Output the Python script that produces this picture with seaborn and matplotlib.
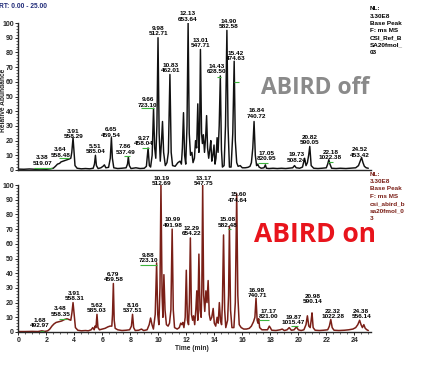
import matplotlib
matplotlib.use("Agg")
import matplotlib.pyplot as plt
from matplotlib.ticker import MultipleLocator
import seaborn as sns
import pandas as pd

# ---------------- data ----------------
top_time = [0.00, 0.40, 0.80, 1.20, 1.60, 2.00, 2.30, 2.50, 2.65, 2.80, 2.95, 3.05, 3.20, 3.35, 3.50, 3.64,
            3.75, 3.82, 3.91, 3.98, 4.05, 4.20, 4.50, 4.80, 5.10, 5.35, 5.44, 5.51, 5.58, 5.70, 5.90, 6.05,
            6.15, 6.25, 6.45, 6.57, 6.65, 6.72, 6.82, 7.10, 7.40, 7.70, 7.80, 7.86, 7.93, 8.05, 8.40, 8.70,
            9.00, 9.15, 9.27, 9.36, 9.45, 9.56, 9.66, 9.74, 9.82, 9.90, 9.98, 10.06, 10.14, 10.22, 10.30,
            10.38, 10.50, 10.62, 10.72, 10.83, 10.92, 11.02, 11.20, 11.40, 11.55, 11.65, 11.72, 11.80, 11.88,
            11.96, 12.05, 12.13, 12.21, 12.30, 12.40, 12.48, 12.58, 12.66, 12.74, 12.82, 12.90, 12.95, 13.01,
            13.09, 13.15, 13.22, 13.30, 13.38, 13.45, 13.52, 13.60, 13.68, 13.75, 13.82, 13.90, 13.98, 14.05,
            14.12, 14.20, 14.27, 14.35, 14.43, 14.51, 14.58, 14.70, 14.80, 14.90, 14.98, 15.08, 15.20, 15.32,
            15.42, 15.50, 15.60, 15.70, 15.85, 16.00, 16.20, 16.40, 16.55, 16.65, 16.75, 16.84, 16.93, 17.02,
            17.10, 17.20, 17.35, 17.55, 17.65, 17.72, 17.90, 18.20, 18.50, 18.80, 19.10, 19.40, 19.60, 19.73,
            19.85, 20.10, 20.30, 20.45, 20.55, 20.65, 20.74, 20.82, 20.92, 21.10, 21.40, 21.70, 22.00, 22.10,
            22.18, 22.26, 22.38, 22.70, 23.00, 23.40, 23.80, 24.10, 24.30, 24.42, 24.52, 24.62, 24.72, 24.85,
            25.00]
top_abund = [0.6, 0.5, 0.7, 0.5, 0.6, 0.5, 0.8, 1.2, 2.5, 4.0, 4.5, 5.5, 6.0, 6.5, 7.0, 7.5,
             8.0, 12.0, 22.0, 12.0, 3.0, 1.2, 0.8, 1.0, 0.8, 1.2, 4.0, 10.0, 3.0, 1.0, 1.5, 2.5,
             3.5, 1.5, 1.8, 8.0, 22.0, 8.0, 1.5, 1.0, 1.2, 1.5, 4.0, 9.0, 3.0, 1.0, 1.5, 1.0,
             1.2, 2.5, 15.0, 3.0, 2.0, 10.0, 42.0, 15.0, 8.0, 30.0, 90.0, 25.0, 6.0, 18.0, 33.0,
             12.0, 3.0, 5.0, 12.0, 65.0, 12.0, 3.0, 2.5, 5.0, 6.0, 4.0, 15.0, 39.0, 10.0,
             4.0, 30.0, 100.0, 25.0, 10.0, 12.0, 5.0, 8.0, 20.0, 15.0, 45.0, 12.0, 25.0, 82.0,
             25.0, 18.0, 24.0, 12.0, 22.0, 37.0, 15.0, 8.0, 14.0, 20.0, 6.0, 10.0, 17.0, 4.0,
             8.0, 22.0, 12.0, 30.0, 64.0, 14.0, 2.0, 3.0, 30.0, 95.0, 30.0, 2.0, 2.0, 25.0,
             74.0, 20.0, 5.0, 2.5, 3.0, 1.5, 1.5, 1.8, 2.5, 5.0, 15.0, 33.0, 10.0, 3.0,
             4.0, 2.0, 1.2, 1.5, 3.5, 1.2, 1.0, 1.2, 1.0, 1.2, 1.0, 1.3, 1.5, 3.0,
             1.5, 1.2, 2.0, 8.0, 3.0, 5.0, 10.0, 16.0, 3.0, 1.2, 1.0, 1.2, 1.5, 4.0,
             7.0, 4.0, 1.2, 1.0, 1.2, 1.0, 1.3, 1.5, 3.0, 6.0, 8.5, 5.0, 2.5, 1.5,
             1.2]

bot_time = [0.00, 0.50, 1.00, 1.40, 1.68, 1.90, 2.10, 2.25, 2.40, 2.55, 2.70, 2.90, 3.10, 3.30, 3.48, 3.62,
            3.75, 3.83, 3.91, 3.99, 4.08, 4.25, 4.50, 4.80, 5.00, 5.20, 5.32, 5.42, 5.48, 5.55, 5.62, 5.69,
            5.80, 6.00, 6.20, 6.40, 6.55, 6.68, 6.73, 6.79, 6.85, 6.92, 7.10, 7.40, 7.70, 7.95, 8.08, 8.16,
            8.24, 8.35, 8.60, 8.80, 8.95, 9.20, 9.35, 9.45, 9.55, 9.65, 9.78, 9.88, 9.96, 10.04, 10.12,
            10.19, 10.27, 10.33, 10.40, 10.48, 10.58, 10.70, 10.80, 10.90, 10.99, 11.07, 11.16, 11.35, 11.50,
            11.60, 11.68, 11.75, 11.83, 11.92, 12.00, 12.08, 12.16, 12.22, 12.29, 12.37, 12.45, 12.52, 12.60,
            12.68, 12.75, 12.82, 12.90, 12.98, 13.06, 13.11, 13.17, 13.24, 13.32, 13.40, 13.48, 13.56, 13.64,
            13.72, 13.82, 13.92, 14.00, 14.10, 14.20, 14.28, 14.36, 14.44, 14.52, 14.58, 14.66, 14.74, 14.82,
            14.95, 15.02, 15.08, 15.16, 15.26, 15.40, 15.50, 15.60, 15.68, 15.78, 15.92, 16.10, 16.30, 16.50,
            16.65, 16.80, 16.90, 16.98, 17.06, 17.12, 17.17, 17.24, 17.40, 17.60, 17.80, 17.93, 18.00, 18.10,
            18.40, 18.70, 18.85, 19.00, 19.20, 19.35, 19.50, 19.70, 19.87, 20.00, 20.20, 20.40, 20.55, 20.65,
            20.75, 20.85, 20.92, 20.98, 21.06, 21.20, 21.50, 21.80, 22.10, 22.22, 22.32, 22.42, 22.55, 22.90,
            23.30, 23.60, 23.90, 24.10, 24.25, 24.38, 24.48, 24.58, 24.68, 24.78, 24.90, 25.00]
bot_abund = [0.3, 0.3, 0.4, 0.3, 0.8, 0.4, 0.8, 2.0, 4.0, 5.5, 6.5, 7.0, 7.5, 8.5, 9.0, 8.5,
             8.0, 13.0, 20.0, 12.0, 3.0, 1.2, 0.8, 1.0, 0.8, 1.5, 3.0, 1.5, 4.0, 3.0, 12.0, 3.0,
             1.5, 2.0, 2.5, 3.5, 4.0, 4.0, 12.0, 33.0, 8.0, 2.5, 1.5, 1.0, 1.2, 1.5, 4.0, 12.0,
             3.0, 1.0, 1.2, 2.0, 1.0, 1.5, 5.0, 9.5, 5.0, 2.0, 12.0, 47.0, 12.0, 5.0, 30.0,
             100.0, 25.0, 10.0, 39.0, 15.0, 5.0, 4.0, 6.0, 15.0, 70.0, 15.0, 3.0, 2.0, 3.0,
             6.0, 5.0, 6.5, 3.0, 10.0, 42.0, 8.0, 5.0, 20.0, 64.0, 12.0, 8.0, 11.0, 5.0,
             15.0, 28.0, 8.0, 53.0, 15.0, 10.0, 30.0, 100.0, 25.0, 14.0, 28.0, 20.0, 35.0, 12.0,
             8.0, 10.0, 16.0, 6.0, 4.0, 10.0, 6.0, 20.0, 8.0, 5.0, 20.0, 66.0, 15.0, 3.0,
             8.0, 25.0, 72.0, 15.0, 3.0, 3.0, 20.0, 94.0, 25.0, 5.0, 3.0, 2.0, 2.0, 2.5,
             4.0, 7.0, 10.0, 23.0, 8.0, 6.0, 9.0, 3.0, 1.5, 1.5, 1.5, 4.0, 3.0, 1.2,
             1.0, 1.5, 2.0, 1.0, 1.5, 3.0, 1.2, 1.5, 3.5, 1.5, 1.0, 1.5, 5.0, 11.0,
             4.0, 3.0, 8.0, 13.0, 3.0, 1.2, 1.0, 1.2, 1.5, 4.0, 8.5, 3.0, 1.2, 1.0,
             1.2, 1.5, 2.0, 3.0, 5.0, 8.0, 5.0, 3.0, 5.0, 2.5, 1.5, 1.0]

# labelled peaks: retention time and base-peak m/z
top_peak_rt = ["3.38", "3.64", "3.91", "5.51", "6.65", "7.86", "9.27", "9.66", "9.98", "10.83", "12.13",
               "13.01", "14.43", "14.90", "15.42", "16.84", "17.05", "19.73", "20.82", "22.18", "24.52"]
top_peak_mz = ["519.07", "558.48", "558.29", "585.04", "459.54", "537.49", "458.04", "723.10", "512.71",
               "462.01", "653.64", "547.71", "628.50", "582.58", "474.63", "740.72", "820.95", "508.24",
               "590.05", "1022.38", "453.42"]
bot_peak_rt = ["1.68", "3.48", "3.91", "5.62", "6.79", "8.16", "9.88", "10.19", "10.99", "12.29", "13.17",
               "15.08", "15.60", "16.98", "17.17", "19.87", "20.98", "22.32", "24.38"]
bot_peak_mz = ["492.97", "558.35", "558.31", "585.03", "459.58", "537.51", "723.10", "512.69", "491.98",
               "654.22", "547.75", "582.48", "474.64", "740.71", "821.00", "1015.47", "590.14", "1022.28",
               "556.14"]

top_info = ["NL:", "3.30E8", "Base Peak", "F: ms MS", "CSI_Ref_B", "SA20fmol_", "03"]
bot_info = ["NL:", "3.30E8", "Base Peak", "F: ms MS", "csi_abird_b", "sa20fmol_0", "3"]

# ---------------- layout (label anchors, in data units) ----------------
top_lab_x = [1.7, 3.0, 3.95, 5.5, 6.6, 7.65, 8.95, 9.25, 10.0, 10.9, 12.1, 13.0, 14.15, 15.0, 15.55,
             17.0, 17.75, 19.9, 20.8, 22.3, 24.4]
top_lab_y = [2, 7.5, 20, 10, 21, 9.5, 15, 41.5, 90, 65, 100, 82, 64, 95, 73, 34, 5, 4, 16, 6, 7.5]
bot_lab_x = [1.55, 3.0, 4.0, 5.6, 6.8, 8.2, 9.3, 10.25, 11.05, 12.4, 13.25, 14.95, 15.7, 17.05, 17.9,
             19.65, 21.0, 22.45, 24.5]
bot_lab_y = [1.5, 9.5, 20, 12, 33, 12, 46, 98, 70, 64.5, 98.5, 70, 87, 22, 8, 3.5, 18, 8, 8]
# green label markers: (x0, x1, y)
top_marks = [(1.1, 2.4, 1.5), (2.9, 3.6, 8), (7.55, 8.0, 9.5), (8.85, 9.3, 15), (8.75, 9.7, 42),
             (14.2, 14.5, 63.5), (15.4, 15.75, 60), (17.1, 17.8, 5), (22.1, 22.45, 5.6)]
bot_marks = [(1.55, 1.8, 1.0), (2.9, 3.5, 9), (8.7, 9.9, 45.6), (15.0, 15.2, 70), (17.2, 17.9, 8),
             (19.5, 20.0, 4)]

# ---------------- drawing ----------------
sns.set_style("ticks")
plt.rcParams['font.family'] = ['Liberation Sans Narrow', 'Liberation Sans', 'DejaVu Sans']
plt.rcParams['axes.linewidth'] = 1.0

W, H = 432, 365
fig = plt.figure(figsize=(W / 100, H / 100), dpi=100)
left = 18.3 / W
width = (25.2 * 14.0) / W
ax_top = fig.add_axes([left, 1 - 170 / H, width, 147 / H])
ax_bot = fig.add_axes([left, 1 - 332 / H, width, 147 / H])

df_top = pd.DataFrame({"Time (min)": top_time, "Relative Abundance": top_abund})
df_bot = pd.DataFrame({"Time (min)": bot_time, "Relative Abundance": bot_abund})

TOP_C = "#111111"
BOT_C = "#7a1f17"
sns.lineplot(data=df_top, x="Time (min)", y="Relative Abundance", ax=ax_top, color=TOP_C,
             linewidth=1.05, estimator=None, sort=False)
sns.lineplot(data=df_bot, x="Time (min)", y="Relative Abundance", ax=ax_bot, color=BOT_C,
             linewidth=1.1, estimator=None, sort=False)

lab_kw = dict(fontsize=4.6, fontweight="bold", ha="center", va="bottom", linespacing=1.05,
              color="black", clip_on=False)

for ax in (ax_top, ax_bot):
    ax.set_xlim(0, 25.2)
    ax.set_ylim(0, 100)
    ax.set_ylabel("")
    ax.set_xlabel("")
    ax.spines["top"].set_visible(False)
    ax.spines["right"].set_visible(False)
    ax.yaxis.set_major_locator(MultipleLocator(10))
    ax.yaxis.set_minor_locator(MultipleLocator(2))
    ax.tick_params(axis="y", which="major", length=2.5, width=0.7, pad=0.8, labelsize=5)
    ax.tick_params(axis="y", which="minor", length=1.3, width=0.5)
    for t in ax.get_yticklabels():
        t.set_fontweight("bold")
    ax.patch.set_alpha(0)

ax_top.set_xticks([])
ax_top.tick_params(axis="x", which="both", length=0, labelbottom=False)

ax_bot.xaxis.set_major_locator(MultipleLocator(2))
ax_bot.xaxis.set_minor_locator(MultipleLocator(0.5))
ax_bot.set_xticks(range(0, 25, 2))
ax_bot.tick_params(axis="x", which="major", length=2.5, width=0.7, pad=0.8, labelsize=5)
ax_bot.tick_params(axis="x", which="minor", length=1.3, width=0.5)
for t in ax_bot.get_xticklabels():
    t.set_fontweight("bold")

for rt, mz, x, y in zip(top_peak_rt, top_peak_mz, top_lab_x, top_lab_y):
    ax_top.text(x, y + 1.0, f"{rt}\n{mz}", **lab_kw)
for rt, mz, x, y in zip(bot_peak_rt, bot_peak_mz, bot_lab_x, bot_lab_y):
    ax_bot.text(x, y + 1.0, f"{rt}\n{mz}", **lab_kw)

for x0, x1, y in top_marks:
    ax_top.plot([x0, x1], [y, y], color="#3cb43c", lw=0.8, solid_capstyle="butt")
for x0, x1, y in bot_marks:
    ax_bot.plot([x0, x1], [y, y], color="#3cb43c", lw=0.8, solid_capstyle="butt")

# figure texts
fig.text(-1 / W, 1 - 6 / H, "RT: 0.00 - 25.00", fontsize=4.8, fontweight="bold", color="#1f2a78",
         ha="left", va="center")
fig.text(4 / W, 1 - 100 / H, "Relative Abundance", fontsize=4.8, fontweight="bold", rotation=90,
         ha="center", va="center")
fig.text(192 / W, 1 - 349 / H, "Time (min)", fontsize=4.8, fontweight="bold", ha="center", va="center")

for i, s in enumerate(top_info):
    fig.text(370 / W, 1 - (9 + 7.2 * i) / H, s, fontsize=4.6, fontweight="bold", color="black",
             ha="left", va="center")
for i, s in enumerate(bot_info):
    fig.text(370 / W, 1 - (174 + 7.4 * i) / H, s, fontsize=4.6, fontweight="bold", color="#7a1f17",
             ha="left", va="center")

fig.text(315 / W, 1 - 88 / H, "ABIRD off", fontsize=16.5, fontweight="bold", color="#8a8a8a",
         ha="center", va="center", family=["Open Sans", "DejaVu Sans"])
fig.text(315 / W, 1 - 235 / H, "ABIRD on", fontsize=19, fontweight="bold", color="#e8141c",
         ha="center", va="center", family=["Open Sans", "DejaVu Sans"])

fig.savefig("out.png", dpi=100)
